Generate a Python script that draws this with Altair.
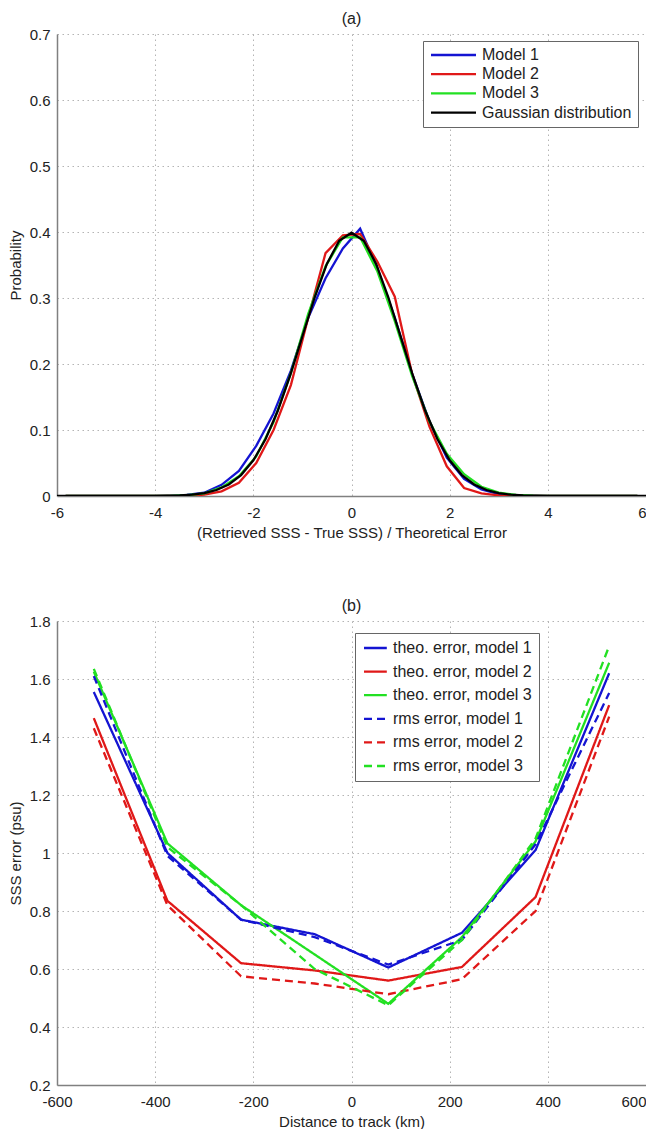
import altair as alt
import pandas as pd

# ---------------- panel (a) data ----------------
BIN_X = [-5.824, -5.471, -5.118, -4.765, -4.412, -4.059, -3.706, -3.353, -3.000,
         -2.647, -2.294, -1.941, -1.588, -1.235, -0.882, -0.529, -0.176, 0.176,
         0.529, 0.882, 1.235, 1.588, 1.941, 2.294, 2.647, 3.000, 3.353, 3.706,
         4.059, 4.412, 4.765, 5.118, 5.471, 5.824]
MODEL1 = [0, 0, 0, 0, 0, 0, 0.0003, 0.0015, 0.005,
          0.017, 0.038, 0.076, 0.125, 0.190, 0.270, 0.330, 0.375, 0.405,
          0.345, 0.270, 0.185, 0.113, 0.058, 0.026, 0.010, 0.003, 0.001, 0.0003,
          0, 0, 0, 0, 0, 0]
MODEL2 = [0, 0, 0, 0, 0, 0, 0, 0.0005, 0.002,
          0.007, 0.020, 0.050, 0.100, 0.168, 0.270, 0.368, 0.395, 0.397,
          0.355, 0.302, 0.185, 0.105, 0.045, 0.012, 0.004, 0.001, 0, 0,
          0, 0, 0, 0, 0, 0]
MODEL3 = [0, 0, 0, 0, 0, 0, 0.0003, 0.0012, 0.004,
          0.013, 0.030, 0.060, 0.112, 0.186, 0.276, 0.348, 0.392, 0.392,
          0.340, 0.265, 0.182, 0.113, 0.064, 0.033, 0.014, 0.005, 0.0015, 0.0004,
          0, 0, 0, 0, 0, 0]
GAUSS_X = [-6.0, -4.5, -4.25, -4.0, -3.75, -3.5, -3.25, -3.0, -2.75, -2.5, -2.25,
           -2.0, -1.75, -1.5, -1.25, -1.0, -0.75, -0.5, -0.25, 0.0, 0.25, 0.5,
           0.75, 1.0, 1.25, 1.5, 1.75, 2.0, 2.25, 2.5, 2.75, 3.0, 3.25, 3.5,
           3.75, 4.0, 4.25, 4.5, 6.0]
GAUSS_Y = [0.0, 0.0, 0.0, 0.0001, 0.0004, 0.0009, 0.0020, 0.0044, 0.0091, 0.0175,
           0.0317, 0.0540, 0.0863, 0.1295, 0.1826, 0.2420, 0.3011, 0.3521, 0.3867,
           0.3989, 0.3867, 0.3521, 0.3011, 0.2420, 0.1826, 0.1295, 0.0863, 0.0540,
           0.0317, 0.0175, 0.0091, 0.0044, 0.0020, 0.0009, 0.0004, 0.0001, 0.0,
           0.0, 0.0]
SERIES_A = ["Model 1", "Model 2", "Model 3", "Gaussian distribution"]
COLORS_A = ["#1414d2", "#e01818", "#22e022", "#000000"]
XTICKS_A = [-6, -4, -2, 0, 2, 4, 6]
YTICKS_A = [0, 0.1, 0.2, 0.3, 0.4, 0.5, 0.6, 0.7]

# ---------------- panel (b) data ----------------
DIST = [-525, -375, -225, -75, 75, 225, 375, 525]
THEO1 = [1.555, 1.000, 0.770, 0.720, 0.605, 0.725, 1.010, 1.620]
THEO2 = [1.465, 0.835, 0.620, 0.595, 0.560, 0.607, 0.848, 1.510]
THEO3 = [1.625, 1.033, 0.820, 0.650, 0.480, 0.710, 1.040, 1.656]
RMS1 = [1.610, 0.990, 0.770, 0.710, 0.615, 0.700, 1.030, 1.552]
RMS2 = [1.430, 0.820, 0.575, 0.550, 0.513, 0.565, 0.800, 1.470]
RMS3 = [1.635, 1.020, 0.820, 0.600, 0.475, 0.700, 1.050, 1.714]
SERIES_B = ["theo. error, model 1", "theo. error, model 2", "theo. error, model 3",
            "rms error, model 1", "rms error, model 2", "rms error, model 3"]
COLORS_B = ["#1414d2", "#e01818", "#22e022", "#1414d2", "#e01818", "#22e022"]
DASHES_B = [[1, 0], [1, 0], [1, 0], [8, 5], [8, 5], [8, 5]]
XTICKS_B = [-600, -400, -200, 0, 200, 400, 600]
YTICKS_B = [0.2, 0.4, 0.6, 0.8, 1, 1.2, 1.4, 1.6, 1.8]

FONT = "Liberation Sans"

# ---------------- tables ----------------
rows_a = []
for name, ys in zip(SERIES_A[:3], [MODEL1, MODEL2, MODEL3]):
    for x, y in zip(BIN_X, ys):
        rows_a.append({"x": x, "y": y, "series": name})
for x, y in zip(GAUSS_X, GAUSS_Y):
    rows_a.append({"x": x, "y": y, "series": SERIES_A[3]})
df_a = pd.DataFrame(rows_a)

rows_b = []
for name, ys in zip(SERIES_B, [THEO1, THEO2, THEO3, RMS1, RMS2, RMS3]):
    for x, y in zip(DIST, ys):
        rows_b.append({"x": x, "y": y, "series": name})
df_b = pd.DataFrame(rows_b)

label_expr = "'' + datum.value"

legend_common = dict(
    title=None, orient="none", labelFont=FONT, labelFontSize=16, labelColor="#222222",
    fillColor="#ffffff", strokeColor="#666666", cornerRadius=0,
    symbolStrokeWidth=2.3, symbolSize=144,
)

legend_a = alt.Legend(
    legendX=366, legendY=7, padding=6, rowPadding=3.2,
    symbolType="M-1,0H6.5", labelOffset=37, **legend_common
)
legend_b = alt.Legend(
    legendX=298, legendY=12, padding=7, rowPadding=7.6,
    symbolType="M-1,0H2.8", labelOffset=15, **legend_common
)

def last_right(v):
    return {"condition": {"test": f"datum.value == {v}", "value": "right"}, "value": "center"}

top = alt.Chart(df_a).mark_line(strokeWidth=2.3, clip=True).encode(
    x=alt.X("x:Q", scale=alt.Scale(domain=[-6, 6], nice=False, zero=False),
            axis=alt.Axis(values=XTICKS_A, labelExpr=label_expr,
                          labelAlign=last_right(XTICKS_A[-1]),
                          title="(Retrieved SSS - True SSS) / Theoretical Error")),
    y=alt.Y("y:Q", scale=alt.Scale(domain=[0, 0.7], nice=False),
            axis=alt.Axis(values=YTICKS_A, labelExpr=label_expr, title="Probability")),
    color=alt.Color("series:N", scale=alt.Scale(domain=SERIES_A, range=COLORS_A),
                    legend=legend_a),
).properties(
    width=589, height=462,
    title=alt.Title("(a)", fontSize=16, fontWeight="normal", font=FONT,
                    color="#222222", offset=0),
)

bottom = alt.Chart(df_b).mark_line(strokeWidth=2.3, clip=True).encode(
    x=alt.X("x:Q", scale=alt.Scale(domain=[-600, 600], nice=False, zero=False),
            axis=alt.Axis(values=XTICKS_B, labelExpr=label_expr,
                          labelAlign=last_right(XTICKS_B[-1]),
                          title="Distance to track (km)")),
    y=alt.Y("y:Q", scale=alt.Scale(domain=[0.2, 1.8], nice=False, zero=False),
            axis=alt.Axis(values=YTICKS_B, labelExpr=label_expr, title="SSS error (psu)")),
    color=alt.Color("series:N", scale=alt.Scale(domain=SERIES_B, range=COLORS_B),
                    legend=legend_b),
    strokeDash=alt.StrokeDash("series:N", scale=alt.Scale(domain=SERIES_B, range=DASHES_B),
                              legend=legend_b),
).properties(
    width=589, height=464,
    title=alt.Title("(b)", fontSize=16, fontWeight="normal", font=FONT,
                    color="#222222", offset=0),
)

chart = alt.vconcat(top, bottom, spacing=58).resolve_scale(
    color="independent", strokeDash="independent"
).resolve_legend(color="independent", strokeDash="independent").properties(
    padding={"left": 0, "top": 3, "right": 0, "bottom": 0}
).configure_view(
    stroke=None
).configure_axis(
    domainColor="#808080", domainWidth=1.5, ticks=False,
    grid=True, gridColor="#b4b4b4", gridDash=[1.5, 3.5], gridWidth=1,
    labelFont=FONT, labelFontSize=15, labelColor="#222222",
    titleFont=FONT, titleFontSize=15, titleFontWeight="normal", titleColor="#222222",
).configure_axisX(
    labelPadding=9, titlePadding=5, labelFlush=False
).configure_axisY(
    labelPadding=7, titlePadding=6
)

chart.save("out.html", embed_options={"renderer": "svg", "actions": False})
